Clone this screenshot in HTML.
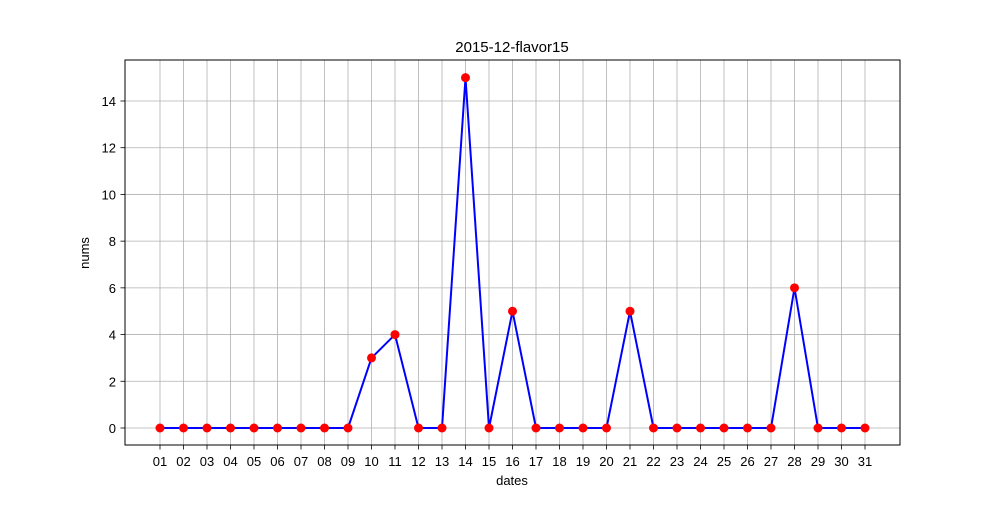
<!DOCTYPE html>
<html><head><meta charset="utf-8"><style>
html,body{margin:0;padding:0;background:#fff;}
svg text{font-family:"Liberation Sans","DejaVu Sans",sans-serif;}
</style></head><body>
<svg id="chart" width="1000" height="500" xmlns="http://www.w3.org/2000/svg">
<rect width="1000" height="500" fill="#fff"/>
<text x="512" y="52" font-size="15" text-anchor="middle" fill="#000">2015-12-flavor15</text>
<text x="512" y="485" font-size="13" text-anchor="middle">dates</text>
<text transform="translate(89,253) rotate(-90)" font-size="13" text-anchor="middle">nums</text>
<g id="grid"></g>
<g id="ticks"></g>
<g id="series"></g>
<rect x="125" y="60" width="775" height="385" fill="none" stroke="#000" stroke-width="1"/>
</svg>
<script>
const categories = ["01","02","03","04","05","06","07","08","09","10","11","12","13","14","15","16","17","18","19","20","21","22","23","24","25","26","27","28","29","30","31"];
const values = [0,0,0,0,0,0,0,0,0,3,4,0,0,15,0,5,0,0,0,0,5,0,0,0,0,0,0,6,0,0,0];
const yTicks = [0,2,4,6,8,10,12,14];

const NS = "http://www.w3.org/2000/svg";
const x0 = 160, x1 = 865;
const yZero = 428, yPer = (428 - 101) / 14;
function xScale(i){ return x0 + i * (x1 - x0) / (categories.length - 1); }
function yScale(v){ return yZero - v * yPer; }
function mk(tag, attrs, parent){
  const el = document.createElementNS(NS, tag);
  for (const k in attrs) el.setAttribute(k, attrs[k]);
  parent.appendChild(el);
  return el;
}
const grid = document.getElementById('grid');
const ticks = document.getElementById('ticks');
const series = document.getElementById('series');

categories.forEach((c, i) => {
  const x = xScale(i);
  const gl = mk('line', {x1:x, x2:x, y1:60, y2:445, stroke:'#b0b0b0', 'stroke-width':0.8}, grid);
  
  
  const tk = mk('line', {x1:x, x2:x, y1:445, y2:449.5, stroke:'#000', 'stroke-width':0.8}, ticks);
  
  
  const t = mk('text', {x:x, y:466, 'font-size':13, 'text-anchor':'middle'}, ticks);
  t.textContent = c;
  
  
});
yTicks.forEach(v => {
  const y = yScale(v);
  const gl = mk('line', {x1:125, x2:900, y1:y, y2:y, stroke:'#b0b0b0', 'stroke-width':0.8}, grid);
  
  
  const tk = mk('line', {x1:120.5, x2:125, y1:y, y2:y, stroke:'#000', 'stroke-width':0.8}, ticks);
  
  
  const t = mk('text', {x:116, y:y+5, 'font-size':13, 'text-anchor':'end'}, ticks);
  t.textContent = v;
  
  
});
const pts = values.map((v, i) => xScale(i) + ',' + yScale(v)).join(' ');
const line = mk('polyline', {points:pts, fill:'none', stroke:'#0000ff', 'stroke-width':2, 'stroke-linejoin':'round'}, series);


values.forEach((v, i) => {
  const p = mk('circle', {cx:xScale(i), cy:yScale(v), r:4.5, fill:'#ff0000'}, series);
  
  
});
</script>
</body></html>
